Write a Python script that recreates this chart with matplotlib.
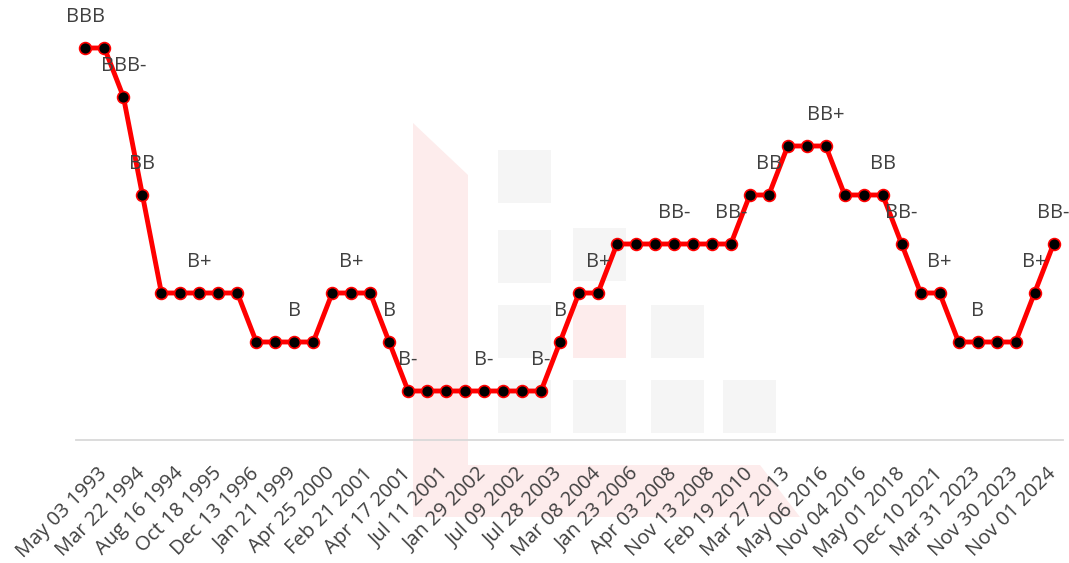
import matplotlib
matplotlib.use("Agg")
import matplotlib.pyplot as plt
from matplotlib.patches import Rectangle, Polygon

plt.rcParams['font.family'] = ['Open Sans', 'DejaVu Sans']

# Rating scale (numeric level -> rating)
rating_names = ['B-', 'B', 'B+', 'BB-', 'BB', 'BB+', 'BBB-', 'BBB']
rating_levels = [1, 2, 3, 4, 5, 6, 7, 8]

# Rating series (one value per rating action, 52 points)
ratings = ['BBB', 'BBB', 'BBB-', 'BB', 'B+', 'B+', 'B+', 'B+', 'B+',
           'B', 'B', 'B', 'B', 'B+', 'B+', 'B+', 'B',
           'B-', 'B-', 'B-', 'B-', 'B-', 'B-', 'B-', 'B-',
           'B', 'B+', 'B+', 'BB-', 'BB-', 'BB-', 'BB-', 'BB-', 'BB-', 'BB-',
           'BB', 'BB', 'BB+', 'BB+', 'BB+', 'BB', 'BB', 'BB',
           'BB-', 'B+', 'B+', 'B', 'B', 'B', 'B', 'B+', 'BB-']

# Points carrying a data label (0-based index)
labelled_points = [0, 2, 3, 6, 11, 14, 16, 17, 21, 24, 25, 27, 31, 34,
                   36, 39, 42, 43, 45, 47, 50, 51]

# Category-axis labels shown (every other category)
tick_labels = ['May 03 1993', 'Mar 22 1994', 'Aug 16 1994', 'Oct 18 1995',
               'Dec 13 1996', 'Jan 21 1999', 'Apr 25 2000', 'Feb 21 2001',
               'Apr 17 2001', 'Jul 11 2001', 'Jan 29 2002', 'Jul 09 2002',
               'Jul 28 2003', 'Mar 08 2004', 'Jan 23 2006', 'Apr 03 2008',
               'Nov 13 2008', 'Feb 19 2010', 'Mar 27 2013', 'May 06 2016',
               'Nov 04 2016', 'May 01 2018', 'Dec 10 2021', 'Mar 31 2023',
               'Nov 30 2023', 'Nov 01 2024']

level_of = dict(zip(rating_names, rating_levels))
values = [level_of[r] for r in ratings]
xs = list(range(len(values)))

W, H = 1069, 563
fig = plt.figure(figsize=(W / 100, H / 100), dpi=100)
fig.patch.set_facecolor('white')

# Faint background watermark (logo)
def fx(px):
    return px / W

def fy(py):
    return 1 - py / H

grey = '#f5f5f5'
pink = '#fdecec'
wm = [
    Polygon([(fx(413), fy(123)), (fx(468), fy(175)), (fx(468), fy(465)),
             (fx(760), fy(465)), (fx(800), fy(517)), (fx(413), fy(517))],
            closed=True, facecolor=pink, edgecolor='none'),
]
squares = [(498, 150, grey), (498, 230, grey), (573, 228, grey),
           (498, 305, grey), (573, 305, pink), (651, 305, grey),
           (498, 380, grey), (573, 380, grey), (651, 380, grey), (723, 380, grey)]
for (x0, y0, c) in squares:
    wm.append(Rectangle((fx(x0), fy(y0 + 53)), 53 / W, 53 / H,
                        facecolor=c, edgecolor='none'))
for p in wm:
    p.set_transform(fig.transFigure)
    p.set_zorder(0)
    fig.patches.append(p)

ax = fig.add_axes([fx(76), fy(440), (1063 - 76) / W, 440 / H])
ax.patch.set_alpha(0)
ax.set_zorder(2)

ax.plot(xs, values, color='#ff0000', linewidth=3.5, marker='o',
        markersize=8.5, markerfacecolor='black', markeredgecolor='#ff0000',
        markeredgewidth=1.2, solid_capstyle='round', zorder=3)

for i in labelled_points:
    ax.annotate(ratings[i], (xs[i], values[i]), xytext=(0, 22),
                textcoords='offset points', ha='center', va='center',
                fontsize=14.5, color='#404040', zorder=4)

ax.set_xlim(-0.5, len(values) - 0.5)
ax.set_ylim(0, 440 / 49)

tick_pos = list(range(1, len(values), 2))
ax.set_xticks(tick_pos)
ax.set_xticklabels(tick_labels, rotation=45, ha='right', va='center',
                   rotation_mode='anchor', fontsize=14.5, color='#404040')
ax.tick_params(axis='x', length=0, pad=22)
ax.set_yticks([])

for s in ['top', 'right', 'left']:
    ax.spines[s].set_visible(False)
ax.spines['bottom'].set_color('#d9d9d9')
ax.spines['bottom'].set_linewidth(1.3)

fig.savefig('out.png', dpi=100)
